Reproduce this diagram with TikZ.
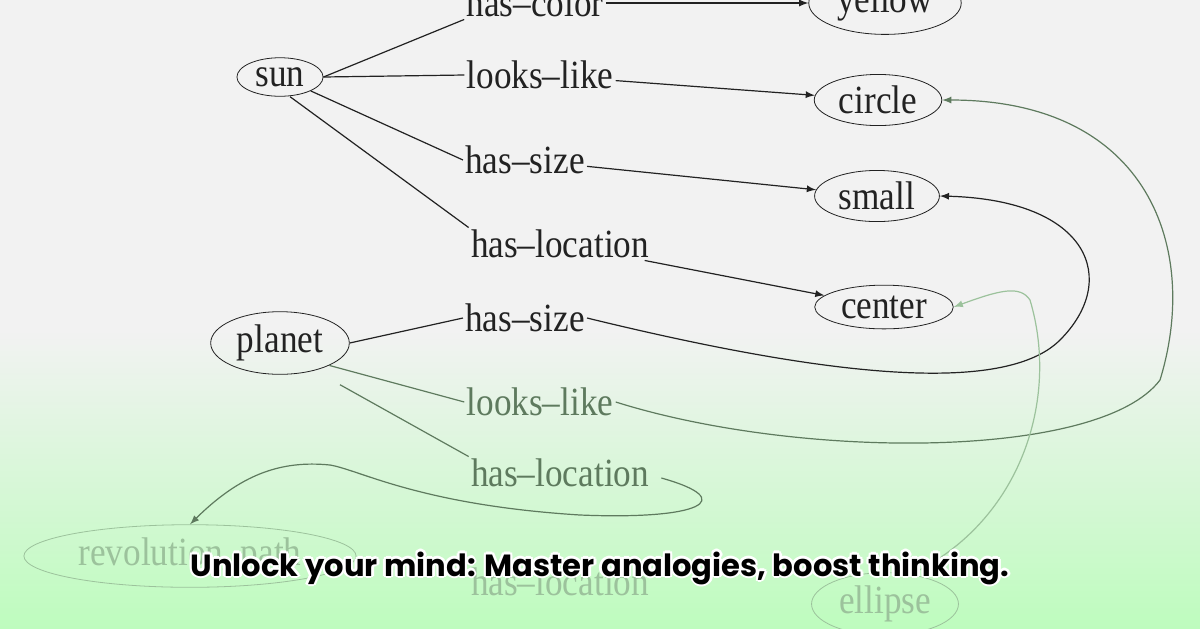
\documentclass[tikz,border=0pt]{standalone}
\usepackage{fontspec}
\setmainfont{Liberation Serif}
\newfontfamily\diagfont[FakeStretch=0.88]{Liberation Serif}
\newfontfamily\capfont{Poppins}
\usetikzlibrary{positioning}
\usetikzlibrary{shapes.geometric}
\definecolor{ink}{HTML}{222222}
\definecolor{fadeink}{HTML}{5E7A5E}
\definecolor{paleink}{HTML}{9CC29C}
\tikzset{
  concept/.style={draw=ink, ellipse, inner xsep=3pt, inner ysep=2pt, text=ink, font=\diagfont\fontsize{20}{20}\selectfont},
  relation/.style={text=ink, inner sep=1pt, font=\diagfont\fontsize{20}{20}\selectfont},
  link/.style={draw=ink, line width=0.6pt},
  arrowlink/.style={link, -latex},
}
\begin{document}
\begin{tikzpicture}[x=0.5pt,y=-0.5pt]
  % background
  \fill[fill={rgb,255:red,242;green,242;blue,242}] (0,0) rectangle (1200,330);
  \shade[top color={rgb,255:red,242;green,242;blue,242}, bottom color={rgb,255:red,190;green,252;blue,190}] (0,330) rectangle (1200,628);
  \useasboundingbox (0,0) rectangle (1200,628);
  % concepts
  \node[concept] (sun) at (280,77) {sun};
  \node[concept] (yellow) at (885,3) {yellow};
  \node[concept] (circle) at (878,100) {circle};
  \node[concept] (small) at (877,196) {small};
  \node[concept] (center) at (884,307) {center};
  \node[concept] (planet) at (280,343) {planet};
  \node[concept, draw=paleink, text=paleink] (revpath) at (190,556) {revolution\_path};
  \node[concept, draw=paleink, text=paleink] (ellipse) at (885,604) {ellipse};
  % relations
  \node[relation] (color) at (535,3) {has–color};
  \node[relation] (looks) at (540,75) {looks–like};
  \node[relation] (size) at (525,160) {has–size};
  \node[relation] (loc) at (560,244) {has–location};
  \node[relation] (psize) at (525,318) {has–size};
  \node[relation, text=fadeink] (plooks) at (540,402) {looks–like};
  \node[relation, text=fadeink] (ploc) at (560,473) {has–location};
  \node[relation, text=paleink] (rloc) at (560,582) {has–location};
  % edges
  \draw[link] (sun.east) -- (color.south west);
  \draw[link] (sun.east) -- (looks.west);
  \draw[link] (sun.south east) -- (size.west);
  \draw[link] (sun.south) ++(10,0) -- (loc.north west);
  \draw[arrowlink] (color) -- (yellow);
  \draw[arrowlink] (looks) -- (circle);
  \draw[arrowlink] (size) -- (small);
  \draw[arrowlink] (loc) -- (center);
  \draw[link] (planet.east) -- (psize.west);
  \draw[link, draw=fadeink] (planet.south east) -- (plooks.west);
  \draw[link, draw=fadeink] (planet.south) ++(60,10) -- (ploc.north west);
  % long curves
  \draw[arrowlink] (psize.east) .. controls (800,370) and (1000,400) .. (1060,340)
    .. controls (1120,280) and (1090,200) .. (small.east);
  \draw[arrowlink, draw=fadeink] (plooks.east) .. controls (800,460) and (1100,460) .. (1160,380)
    .. controls (1200,250) and (1150,100) .. (circle.east);
  \draw[arrowlink, draw=fadeink] (ploc.east) ++(10,5) .. controls (740,500) and (700,520) .. (580,515)
    .. controls (420,505) and (360,470) .. (330,465) .. controls (280,460) and (240,475) .. (revpath.north);
  \draw[arrowlink, draw=paleink] (ellipse.north) ++(30,0) .. controls (1020,520) and (1060,400) .. (1030,300)
    .. controls (1020,285) and (1000,290) .. (center.east);
  % caption
  \foreach \dx/\dy in {-1.2/0,1.2/0,0/-1.2,0/1.2,-0.9/-0.9,0.9/0.9,-0.9/0.9,0.9/-0.9}
    \node[text=white, font=\capfont\bfseries\fontsize{15.3}{15.3}\selectfont] at ([xshift=\dx pt, yshift=\dy pt]600,568) {Unlock your mind: Master analogies, boost thinking.};
  \node[text=black, font=\capfont\bfseries\fontsize{15.3}{15.3}\selectfont] (caption) at (600,568) {Unlock your mind: Master analogies, boost thinking.};
\end{tikzpicture}
\end{document}
